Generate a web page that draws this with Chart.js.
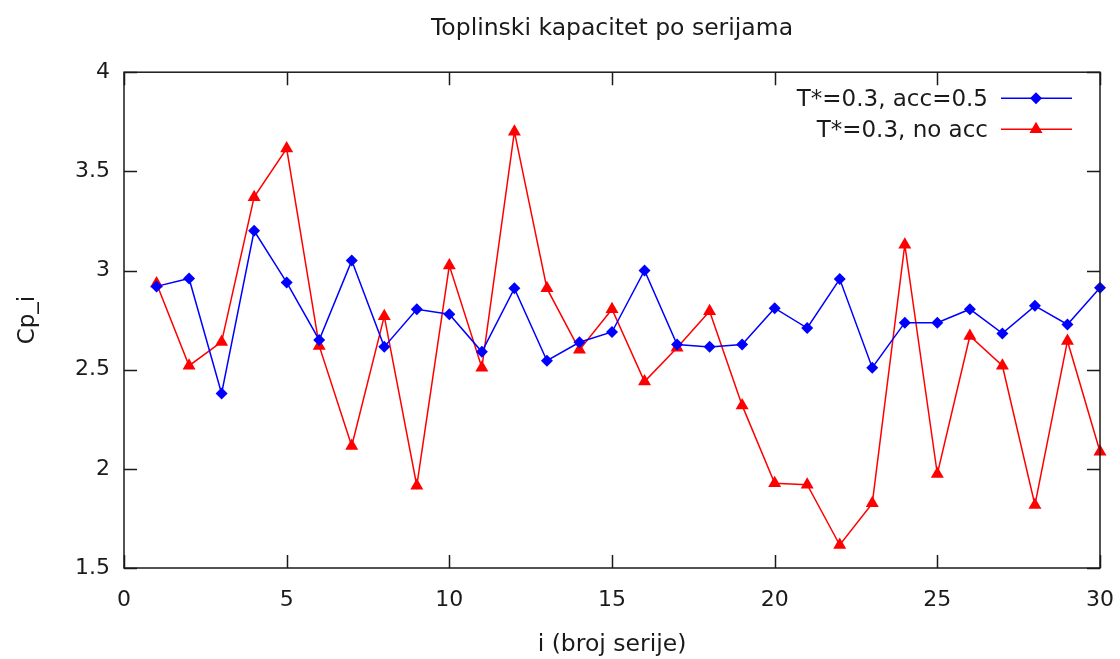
<!DOCTYPE html>
<html>
<head>
<meta charset="utf-8">
<title>Toplinski kapacitet po serijama</title>
<script src="https://cdn.jsdelivr.net/npm/chart.js@4/dist/chart.umd.min.js"></script>
<style>
  html, body { margin: 0; padding: 0; background: #fff; }
  #wrap { width: 1120px; height: 659px; }
</style>
</head>
<body>
<div id="wrap"><canvas id="chart" width="1120" height="659"></canvas></div>
<script>
// podaci procitani s grafa
var serije = [1, 2, 3, 4, 5, 6, 7, 8, 9, 10, 11, 12, 13, 14, 15,
              16, 17, 18, 19, 20, 21, 22, 23, 24, 25, 26, 27, 28, 29, 30];
var cpAcc = [2.92, 2.96, 2.38, 3.20, 2.94, 2.65, 3.05, 2.615, 2.805, 2.78,
             2.59, 2.91, 2.545, 2.638, 2.69, 3.00, 2.627, 2.615, 2.627, 2.81,
             2.71, 2.957, 2.51, 2.737, 2.737, 2.805, 2.683, 2.822, 2.728, 2.913];
var cpNoAcc = [2.935, 2.52, 2.64, 3.37, 3.615, 2.62, 2.115, 2.77, 1.915, 3.025,
               2.51, 3.70, 2.91, 2.60, 2.805, 2.44, 2.61, 2.795, 2.32, 1.927,
               1.92, 1.616, 1.826, 3.13, 1.974, 2.67, 2.52, 1.818, 2.645, 2.086];
var xTicks = [0, 5, 10, 15, 20, 25, 30];
var yTicks = [1.5, 2, 2.5, 3, 3.5, 4];
var seriesNames = ['T*=0.3, acc=0.5', 'T*=0.3, no acc'];

var FONT = 'DejaVu Sans';
var TEXT = '#1a1a1a';

function toPoints(ys) {
  return serije.map(function (x, i) { return { x: x, y: ys[i] }; });
}

function marker(ctx, style, r, x, y, color) {
  ctx.save();
  ctx.fillStyle = color;
  ctx.beginPath();
  if (style === 'rectRot') {
    ctx.moveTo(x, y - r); ctx.lineTo(x + r, y); ctx.lineTo(x, y + r); ctx.lineTo(x - r, y);
  } else {
    ctx.moveTo(x, y - r);
    ctx.lineTo(x + r * Math.sin(Math.PI * 2 / 3), y - r * Math.cos(Math.PI * 2 / 3));
    ctx.lineTo(x + r * Math.sin(Math.PI * 4 / 3), y - r * Math.cos(Math.PI * 4 / 3));
  }
  ctx.closePath();
  ctx.fill();
  ctx.restore();
}

// okvir s unutarnjim oznakama na sve cetiri strane (gnuplot stil)
var framePlugin = {
  id: 'frame',
  afterDatasetsDraw: function (chart) {
    var a = chart.chartArea, ctx = chart.ctx, t = 13;
    var xs = chart.scales.x, ys = chart.scales.y;
    ctx.save();
    ctx.strokeStyle = TEXT;
    ctx.lineWidth = 1.5;
    ctx.beginPath();
    xTicks.forEach(function (v) {
      var px = Math.round(xs.getPixelForValue(v)) + 0.5;
      ctx.moveTo(px, a.bottom); ctx.lineTo(px, a.bottom - t);
      ctx.moveTo(px, a.top); ctx.lineTo(px, a.top + t);
    });
    yTicks.forEach(function (v) {
      var py = Math.round(ys.getPixelForValue(v)) + 0.5;
      ctx.moveTo(a.left, py); ctx.lineTo(a.left + t, py);
      ctx.moveTo(a.right, py); ctx.lineTo(a.right - t, py);
    });
    ctx.stroke();
    ctx.strokeRect(a.left, a.top, a.right - a.left, a.bottom - a.top);
    ctx.restore();
  }
};

// legenda: tekst desno poravnat, pa uzorak linije s oznakom
var legendPlugin = {
  id: 'gpLegend',
  afterDraw: function (chart) {
    var a = chart.chartArea, ctx = chart.ctx;
    ctx.save();
    ctx.font = '23px "' + FONT + '"';
    ctx.fillStyle = TEXT;
    ctx.textAlign = 'right';
    ctx.textBaseline = 'middle';
    chart.data.datasets.forEach(function (ds, i) {
      var y = a.top + 26 + i * 31;
      ctx.fillText(ds.label, a.right - 112, y + 2);
      ctx.strokeStyle = ds.borderColor;
      ctx.lineWidth = ds.borderWidth;
      ctx.beginPath();
      ctx.moveTo(a.right - 99, y); ctx.lineTo(a.right - 28, y);
      ctx.stroke();
      marker(ctx, ds.pointStyle, ds.pointRadius, a.right - 64, y, ds.borderColor);
    });
    ctx.restore();
  }
};

function plainNum(v) { return String(v); }

new Chart(document.getElementById('chart'), {
  type: 'line',
  data: {
    datasets: [
      {
        label: seriesNames[0],
        data: toPoints(cpAcc),
        borderColor: '#0000ff',
        backgroundColor: '#0000ff',
        borderWidth: 1.5,
        pointStyle: 'rectRot',
        pointRadius: 6,
        pointBorderWidth: 0,
        tension: 0,
        clip: 10
      },
      {
        label: seriesNames[1],
        data: toPoints(cpNoAcc),
        borderColor: '#ff0000',
        backgroundColor: '#ff0000',
        borderWidth: 1.5,
        pointStyle: 'triangle',
        pointRadius: 7.5,
        pointBorderWidth: 0,
        tension: 0,
        clip: 10
      }
    ]
  },
  options: {
    responsive: false,
    animation: false,
    devicePixelRatio: 1,
    layout: { padding: { left: 0, right: 20, top: 0, bottom: 0 } },
    plugins: {
      legend: { display: false },
      tooltip: { enabled: false },
      title: {
        display: true,
        fullSize: false,
        text: 'Toplinski kapacitet po serijama',
        color: TEXT,
        font: { family: FONT, size: 23.5, weight: 'normal' },
        padding: { top: 15, bottom: 29 }
      }
    },
    scales: {
      x: {
        type: 'linear',
        min: 0, max: 30,
        afterBuildTicks: function (s) { s.ticks = xTicks.map(function (v) { return { value: v }; }); },
        afterFit: function (s) { s.height = 91; s.paddingLeft = 0; s.paddingRight = 0; },
        grid: { display: false, drawTicks: false },
        border: { display: false },
        ticks: { color: TEXT, font: { family: FONT, size: 22 }, padding: 19, maxRotation: 0, callback: plainNum },
        title: {
          display: true, text: 'i (broj serije)', color: TEXT,
          font: { family: FONT, size: 23.5 }, padding: { top: 0, bottom: 0 }
        }
      },
      y: {
        min: 1.5, max: 4,
        afterBuildTicks: function (s) { s.ticks = yTicks.map(function (v) { return { value: v }; }); },
        afterFit: function (s) { s.width = 124; s.paddingTop = 0; s.paddingBottom = 0; },
        grid: { display: false, drawTicks: false },
        border: { display: false },
        ticks: { color: TEXT, font: { family: FONT, size: 22 }, padding: 14, callback: plainNum },
        title: {
          display: true, text: 'Cp_i', color: TEXT,
          font: { family: FONT, size: 23 }, padding: { top: 14, bottom: 0 }
        }
      }
    }
  },
  plugins: [framePlugin, legendPlugin]
});
</script>
</body>
</html>
